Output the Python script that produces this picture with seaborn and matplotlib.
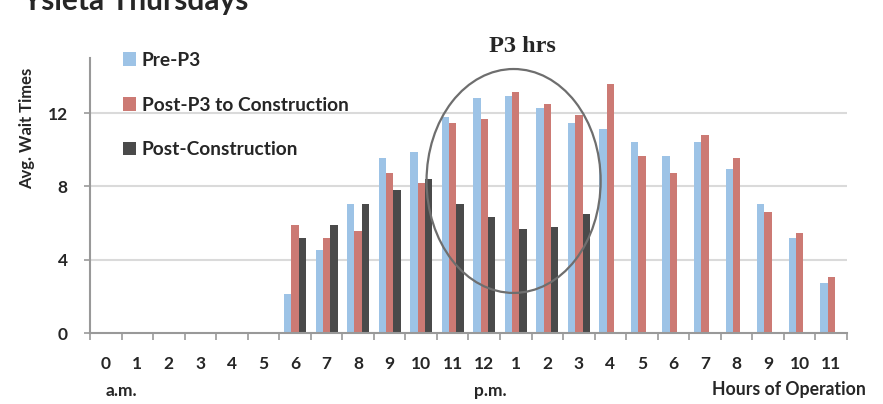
import numpy as np
import pandas as pd
import matplotlib
matplotlib.use("Agg")
import matplotlib.pyplot as plt
from matplotlib.patches import Ellipse
import seaborn as sns

hour_labels = ["0", "1", "2", "3", "4", "5", "6", "7", "8", "9", "10", "11",
               "12", "1", "2", "3", "4", "5", "6", "7", "8", "9", "10", "11"]
series_names = ["Pre-P3", "Post-P3 to Construction", "Post-Construction"]
nan = np.nan
pre_p3 = [nan, nan, nan, nan, nan, nan, 2.12, 4.54, 7.05, 9.57, 9.88, 11.77,
          12.82, 12.93, 12.29, 11.46, 11.15, 10.41, 9.66, 10.41, 8.95, 7.05, 5.18, 2.74]
post_p3 = [nan, nan, nan, nan, nan, nan, 5.88, 5.18, 5.59, 8.72, 8.21, 11.46,
           11.68, 13.15, 12.51, 11.88, 13.57, 9.66, 8.72, 10.82, 9.57, 6.63, 5.47, 3.07]
post_construction = [nan, nan, nan, nan, nan, nan, 5.18, 5.88, 7.05, 7.79, 8.41, 7.05,
                     6.32, 5.68, 5.79, 6.52, nan, nan, nan, nan, nan, nan, nan, nan]
y_ticks = [0, 4, 8, 12]
colors = ["#9DC3E6", "#CC7A74", "#4A4A4A"]

rows = []
for name, vals in zip(series_names, [pre_p3, post_p3, post_construction]):
    for slot, v in enumerate(vals):
        if not np.isnan(v):
            rows.append({"slot": slot, "value": v, "series": name})
df = pd.DataFrame(rows)

sns.set_style("white")
FONT = ["Lato", "DejaVu Sans"]
plt.rcParams["font.family"] = FONT

fig = plt.figure(figsize=(8.83, 4.04), dpi=100)
ax = fig.add_axes([90/883, 1 - 333.3/404, 757/883, 275.3/404])

sns.barplot(data=df, x="slot", y="value", hue="series", order=list(range(24)),
            hue_order=series_names, palette=colors, width=0.7, gap=0,
            errorbar=None, ax=ax, saturation=1, edgecolor="none")

ax.set_xlim(-0.5, 23.5)
ax.set_ylim(0, 15)
ax.set_yticks(y_ticks)
ax.set_yticklabels([str(t) for t in y_ticks], fontsize=12.5, fontweight="bold")
ax.set_xticks(range(24))
ax.set_xticklabels(hour_labels, fontsize=12.5, fontweight="bold")
ax.set_xticks(np.arange(-0.5, 24, 1), minor=True)
ax.tick_params(axis="x", which="major", length=0, pad=16)
ax.tick_params(axis="x", which="minor", length=5, color="#999999", width=1.2, direction="out")
ax.tick_params(axis="y", which="major", length=4, color="#999999", width=1.2, pad=12,
               direction="out")
ax.tick_params(axis="x", which="both", bottom=True)
ax.tick_params(axis="y", which="both", left=True)

for y in y_ticks[1:]:
    ax.axhline(y, color="#DADADA", lw=1.5, zorder=0)
for s in ["top", "right"]:
    ax.spines[s].set_visible(False)
for s in ["left", "bottom"]:
    ax.spines[s].set_color("#999999")
    ax.spines[s].set_linewidth(1.5)

ax.set_xlabel("")
ax.set_ylabel("Avg. Wait Times", fontsize=12, fontweight="bold")
ax.yaxis.set_label_coords(-55/757, 0.746)

handles, labels = ax.get_legend_handles_labels()
leg = ax.legend(handles, labels, loc="upper left", bbox_to_anchor=(25/757, 1.05),
                frameon=False, fontsize=13.8, labelspacing=1.45, handlelength=0.7,
                handleheight=0.7, handletextpad=0.3, borderaxespad=0)
for t in leg.get_texts():
    t.set_fontweight("bold")

ell = Ellipse((12.93, 8.3), width=5.52, height=12.2, fill=False,
              edgecolor="#6E6E6E", lw=1.6, zorder=5)
ax.add_patch(ell)

fig.text(522/883, 1 - 47/404, "P3 hrs", fontsize=17.5, fontweight="bold",
         family=["Liberation Serif"], ha="center", va="center")
fig.text(22/883, 1 - 10/404, "Ysleta Thursdays", fontsize=21.5, fontweight="bold",
         ha="left", va="baseline")
fig.text(121/883, 1 - 391/404, "a.m.", fontsize=12.5, fontweight="bold", ha="center", va="center")
fig.text(490/883, 1 - 391/404, "p.m.", fontsize=12.5, fontweight="bold", ha="center", va="center")
fig.text(789/883, 1 - 390/404, "Hours of Operation", fontsize=12.7, fontweight="bold",
         ha="center", va="center")

fig.savefig("out.png", dpi=100)
